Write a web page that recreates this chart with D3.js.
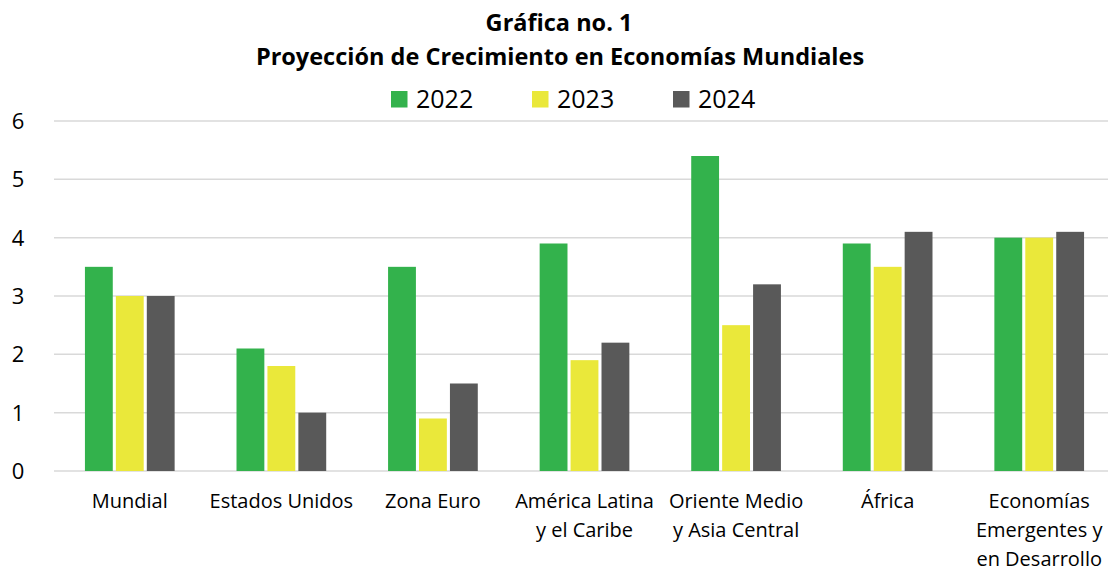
<!DOCTYPE html>
<html>
<head>
<meta charset="utf-8">
<script src="https://cdn.jsdelivr.net/npm/d3@7"></script>
<style>
  body { margin: 0; background: #fff; }
  svg text { font-family: "Open Sans", Lato, sans-serif; fill: #000; }
</style>
</head>
<body>
<div class="chart"></div>
<script>
// data
const categories = [
    ["Mundial"],
    ["Estados Unidos"],
    ["Zona Euro"],
    ["América Latina", "y el Caribe"],
    ["Oriente Medio", "y Asia Central"],
    ["África"],
    ["Economías", "Emergentes y", "en Desarrollo"]
];
const years = ["2022", "2023", "2024"];
const values2022 = [3.5, 2.1, 3.5, 3.9, 5.4, 3.9, 4.0];
const values2023 = [3.0, 1.8, 0.9, 1.9, 2.5, 3.5, 4.0];
const values2024 = [3.0, 1.0, 1.5, 2.2, 3.2, 4.1, 4.1];
const yTicks = [0, 1, 2, 3, 4, 5, 6];
const colors = ["#33b24c", "#eae83a", "#595959"];

const series = [values2022, values2023, values2024];

const width = 1108, height = 571;
const margin = {top: 121, left: 54, right: -7, bottom: 100};

const svg = d3.select(".chart").append("svg")
    .attr("width", width)
    .attr("height", height);

// titles
svg.append("text")
    .attr("x", 559).attr("y", 31)
    .attr("text-anchor", "middle")
    .attr("font-size", 23.5).attr("font-weight", "bold")
    .text("Gráfica no. 1");
svg.append("text")
    .attr("x", 560).attr("y", 65)
    .attr("text-anchor", "middle")
    .attr("font-size", 23.5).attr("font-weight", "bold")
    .text("Proyección de Crecimiento en Economías Mundiales");

const x0 = d3.scaleBand()
    .domain(d3.range(categories.length))
    .range([margin.left, width - margin.right]);

const x1 = d3.scaleBand()
    .domain(years)
    .range([0, x0.bandwidth()])
    .paddingInner(0.1)
    .paddingOuter(1.0);

const y = d3.scaleLinear()
    .domain([0, 6])
    .range([height - margin.bottom, margin.top]);

// gridlines
svg.append("g")
    .selectAll("line")
    .data(yTicks)
    .enter()
    .append("line")
    .attr("x1", margin.left)
    .attr("x2", width)
    .attr("y1", d => y(d))
    .attr("y2", d => y(d))
    .attr("stroke", "#d9d9d9")
    .attr("stroke-width", 1.5);

// y labels
svg.append("g")
    .selectAll("text")
    .data(yTicks)
    .enter()
    .append("text")
    .attr("x", 18)
    .attr("y", d => y(d))
    .attr("dy", "0.36em")
    .attr("text-anchor", "middle")
    .attr("font-size", 22)
    .text(d => d);

// bars
const groups = svg.append("g")
    .selectAll("g")
    .data(categories)
    .enter()
    .append("g")
    .attr("transform", (d, i) => "translate(" + x0(i) + ",0)");

groups.selectAll("rect")
    .data((d, i) => years.map((yr, k) => ({year: yr, value: series[k][i], k: k})))
    .enter()
    .append("rect")
    .attr("x", d => x1(d.year))
    .attr("width", x1.bandwidth())
    .attr("y", d => y(d.value))
    .attr("height", d => y(0) - y(d.value))
    .attr("fill", d => colors[d.k]);

// category labels
groups.each(function(lines, i) {
    const t = d3.select(this).append("text")
        .attr("text-anchor", "middle")
        .attr("font-size", 20);
    t.selectAll("tspan")
        .data(lines)
        .enter()
        .append("tspan")
        .attr("x", x0.bandwidth() / 2)
        .attr("y", (d, j) => 508 + j * 29)
        .text(d => d);
});

// legend
const legendX = [391, 532, 673];
const legend = svg.append("g")
    .selectAll("g")
    .data(years)
    .enter()
    .append("g")
    .attr("transform", (d, i) => "translate(" + legendX[i] + ",91)");
legend.append("rect")
    .attr("width", 16.5).attr("height", 16.5)
    .attr("fill", (d, i) => colors[i]);
legend.append("text")
    .attr("x", 25).attr("y", 17)
    .attr("font-size", 25)
    .text(d => d);
</script>
</body>
</html>
